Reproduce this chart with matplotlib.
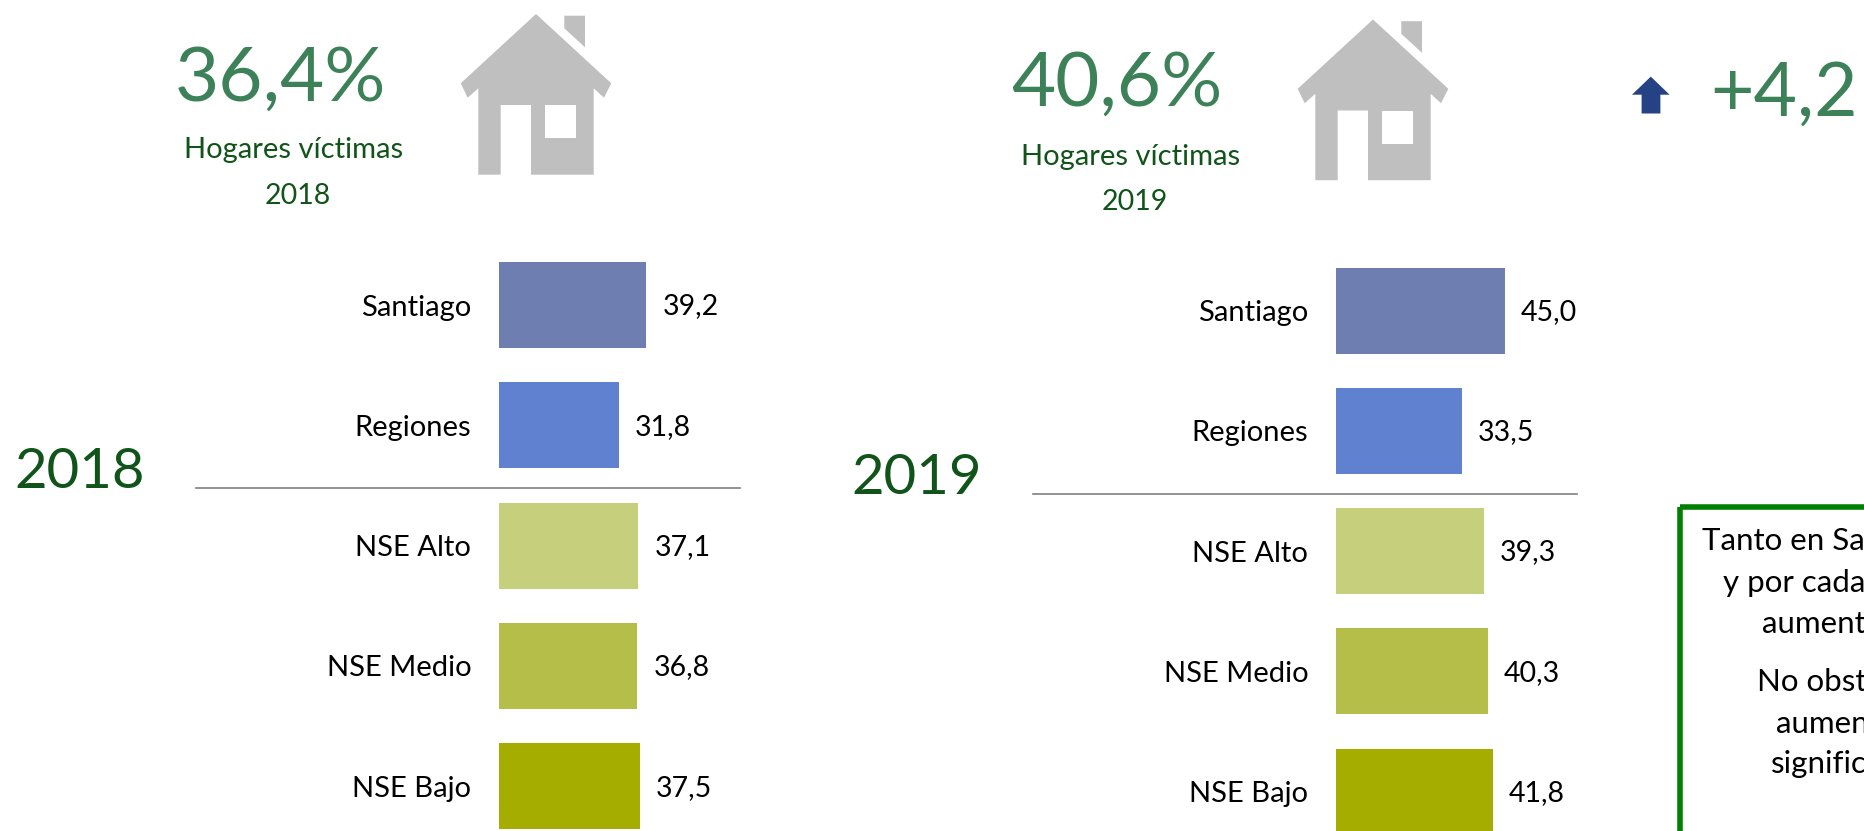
import matplotlib
matplotlib.use('Agg')
import matplotlib.pyplot as plt
from matplotlib.patches import Polygon, Rectangle

plt.rcParams['font.family'] = ['Lato', 'DejaVu Sans']

W, H = 1864, 831

categories = ['Santiago', 'Regiones', 'NSE Alto', 'NSE Medio', 'NSE Bajo']
values_2018 = [39.2, 31.8, 37.1, 36.8, 37.5]
values_2019 = [45.0, 33.5, 39.3, 40.3, 41.8]
bar_colors = ['#6F7EB0', '#6080D0', '#C6CF7C', '#B5BE48', '#A5AD00']
total_2018 = '36,4%'
total_2019 = '40,6%'
change = '+4,2'
box_lines = ['Tanto en Sa', 'y por cada', 'aument', 'No obst', 'aumen', 'significa']

big_green = '#3C8157'
dark_green = '#11541A'
house_grey = '#BFBFBF'

fig = plt.figure(figsize=(W / 100, H / 100), dpi=100, facecolor='white')

# pixel axes for the decoration, y goes down like the picture
bg = fig.add_axes([0, 0, 1, 1])
bg.set_xlim(0, W)
bg.set_ylim(H, 0)
bg.axis('off')


def draw_house(dx, dy):
    body = [(536, 14), (611.3, 83.3), (604, 97.7), (593.7, 88.3), (593.7, 174.7),
            (531, 174.7), (531, 105), (500.7, 105), (500.7, 174.7), (478.3, 174.7),
            (478.3, 88.3), (467.7, 97.7), (460.7, 83.3)]
    chimney = [(564.3, 15.7), (585, 15.7), (585, 47.3), (564.3, 28.3)]
    bg.add_patch(Polygon([(x + dx, y + dy) for x, y in body], fc=house_grey, ec='none'))
    bg.add_patch(Polygon([(x + dx, y + dy) for x, y in chimney], fc=house_grey, ec='none'))
    bg.add_patch(Rectangle((545 + dx, 105 + dy), 30.7, 33.3, fc='white', ec='none'))


def draw_panel(values, total, year, dx, dy, hog_y):
    # 3.76 px per unit, rows 120.3 px apart
    ax = fig.add_axes([(499 + dx) / W, 1 - (846.4 + dy) / H, 260 / W, 601.5 / H])
    ax.barh(range(len(categories)), values, height=0.715, color=bar_colors)
    ax.set_xlim(0, 260 / 3.76)
    ax.set_ylim(4.5, -0.5)
    ax.set_yticks(range(len(categories)))
    ax.set_yticklabels(categories, fontsize=21, color='black')
    ax.tick_params(axis='y', length=0, pad=20)
    ax.set_xticks([])
    for s in ax.spines.values():
        s.set_visible(False)
    ax.patch.set_alpha(0)
    for i, v in enumerate(values):
        ax.annotate(f'{v:.1f}'.replace('.', ','), (v, i), xytext=(11.5, -1),
                    textcoords='offset points', va='center', fontsize=20.5, color='black')

    draw_house(dx, dy)
    bg.plot([196 + dx, 740 + dx], [488 + dy, 488 + dy], color='#808080', lw=1.2)
    bg.text(280 + dx, 100.7 + dy, total, fontsize=55, color=big_green, ha='center', va='baseline')
    bg.text(294 + dx, hog_y, 'Hogares víctimas', fontsize=21, color=dark_green, ha='center', va='baseline')
    bg.text(298 + dx, 204 + dy, year, fontsize=20.5, color=dark_green, ha='center', va='baseline')
    bg.text(80 + dx, 488.5 + dy, year, fontsize=40.5, color=dark_green, ha='center', va='baseline')


draw_panel(values_2018, total_2018, '2018', 0, 0, 158)
draw_panel(values_2019, total_2019, '2019', 837, 5.5, 165)

# up arrow and the change
bg.add_patch(Polygon([(1650.8, 76.6), (1669.6, 94.7), (1660.4, 94.7), (1660.4, 113.5),
                      (1641.6, 113.5), (1641.6, 94.7), (1632, 94.7)], fc='#254284', ec='none'))
bg.text(1710, 116, change, fontsize=54, color=big_green, ha='left', va='baseline')

# green box runs off the picture on the right and below
bg.add_patch(Rectangle((1679.5, 507), 300, 400, fc='none', ec='#008000', lw=4))
box_x = [1702, 1723, 1762, 1757, 1776, 1771]
box_y = [550, 592, 633, 691, 733, 773]
for x, y, line in zip(box_x, box_y, box_lines):
    bg.text(x, y, line, fontsize=22.5, color='black', ha='left', va='baseline')

fig.savefig('out.png', dpi=100)
